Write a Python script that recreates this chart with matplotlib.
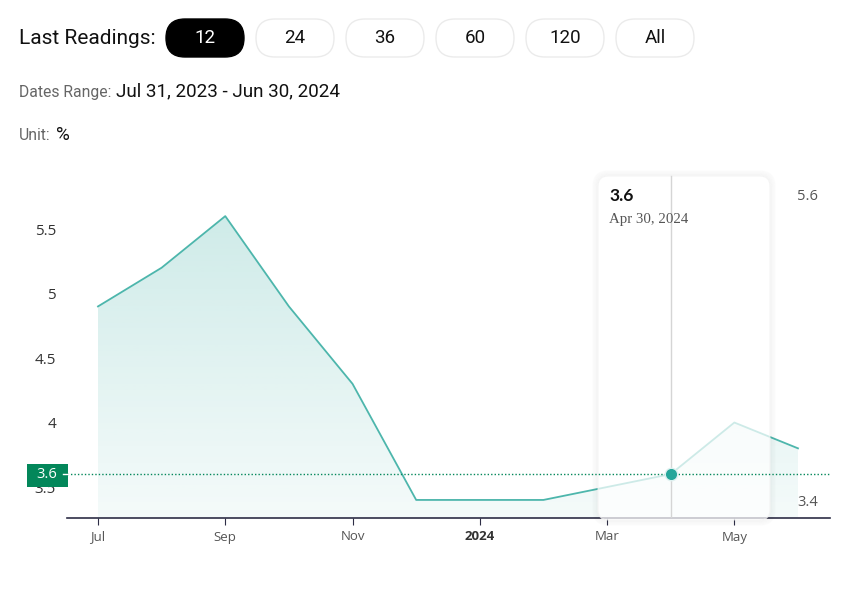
import matplotlib
matplotlib.use("Agg")
import matplotlib.pyplot as plt
import numpy as np
from matplotlib.patches import FancyBboxPatch, Rectangle, Polygon
from matplotlib.transforms import IdentityTransform

# data
months = ["Jul", "Aug", "Sep", "Oct", "Nov", "Dec", "Jan", "Feb", "Mar", "Apr", "May", "Jun"]
values = [4.9, 5.2, 5.6, 4.9, 4.3, 3.4, 3.4, 3.4, 3.5, 3.6, 4.0, 3.8]
tick_pos = [0, 2, 4, 6, 8, 10]
tick_labels = ["Jul", "Sep", "Nov", "2024", "Mar", "May"]
y_ticks = [3.5, 4, 4.5, 5, 5.5]
y_tick_labels = ["3.5", "4", "4.5", "5", "5.5"]
buttons = ["12", "24", "36", "60", "120", "All"]
hover_idx = 9
hover_date = "Apr 30, 2024"
date_range = "Jul 31, 2023 - Jun 30, 2024"

W, H = 845, 598
fig = plt.figure(figsize=(W / 100, H / 100), dpi=100)
pix = IdentityTransform()


def fx(px):
    return px / W


def fy(py):
    return 1 - py / H


def py(y):
    # pixel y (top origin) -> display y (bottom origin)
    return H - y


teal = "#4db6ac"
green = "#03875a"

# main axes
ax = fig.add_axes([fx(67), fy(518), (830 - 67) / W, (518 - 160) / H])
ymin, ymax = 3.26, 6.035
x = np.arange(len(values))

# gradient fill under the line
grad = np.zeros((200, 1, 4))
grad[:, 0, 0] = 77 / 255
grad[:, 0, 1] = 182 / 255
grad[:, 0, 2] = 172 / 255
grad[:, 0, 3] = np.linspace(0.06, 0.27, 200)
im = ax.imshow(grad, origin="lower", aspect="auto",
               extent=[x[0], x[-1], ymin, max(values)], zorder=1)
verts = list(zip(x, values)) + [(x[-1], ymin), (x[0], ymin)]
clip = Polygon(verts, closed=True, facecolor="none", edgecolor="none")
ax.add_patch(clip)
im.set_clip_path(clip)
ax.set_xlim(-0.487, 11.503)
ax.set_ylim(ymin, ymax)

ax.plot(x, values, color=teal, lw=1.3, zorder=2)

for s in ["left", "top", "right"]:
    ax.spines[s].set_visible(False)
ax.spines["bottom"].set_color("#2d2d46")
ax.spines["bottom"].set_linewidth(1.2)

ax.set_xticks(tick_pos)
ax.set_xticklabels(tick_labels)
ax.set_yticks(y_ticks)
ax.set_yticklabels(y_tick_labels)
ax.tick_params(axis="x", length=5, color="#2d2d46", labelsize=9.5, labelcolor="#555555", pad=4)
ax.tick_params(axis="y", length=0, pad=8, labelsize=11, labelcolor="#333333")
for lbl in ax.get_xticklabels():
    lbl.set_fontfamily("Open Sans")
    if lbl.get_text() == "2024":
        lbl.set_fontweight("bold")
        lbl.set_color("#333333")
for lbl in ax.get_yticklabels():
    lbl.set_fontfamily("Open Sans")
ax.set_facecolor("none")

# tooltip box (in pixels) with a soft ring shadow
bx0, bx1, by0, by1 = 598, 770, 176, 520
for i in range(1, 6):
    sh = FancyBboxPatch((bx0 - i, py(by1) - i), (bx1 - bx0) + 2 * i, (by1 - by0) + 2 * i,
                        boxstyle="round,pad=0,rounding_size=%d" % (10 + i),
                        transform=pix, facecolor="none", edgecolor="black", lw=1,
                        alpha=0.035 - 0.005 * i, zorder=4)
    fig.patches.append(sh)
box = FancyBboxPatch((bx0, py(by1)), bx1 - bx0, by1 - by0,
                     boxstyle="round,pad=0,rounding_size=10", transform=pix,
                     facecolor="white", edgecolor="#f0f0f0", lw=0.8, alpha=0.72, zorder=5)
fig.patches.append(box)

# overlay axes for hover elements
ax2 = fig.add_axes(ax.get_position(), zorder=10)
ax2.set_xlim(ax.get_xlim())
ax2.set_ylim(ax.get_ylim())
ax2.axis("off")
ax2.patch.set_alpha(0)
ax2.axvline(hover_idx, ymin=0, ymax=(518 - 176) / (518 - 160), color="#d5d5d5", lw=1)
ax2.axhline(values[hover_idx], xmin=0, xmax=1, color=green, lw=1, ls=(0, (1, 1.5)))
ax2.plot(hover_idx, values[hover_idx], "o", ms=9, color="#26a69a", mec="#e0f2f1", mew=1)

# tooltip text
fig.text(fx(609), fy(196), "%.1f" % values[hover_idx], fontsize=12.5, fontweight="bold",
         color="#111111", va="center", ha="left", family="Lato", zorder=12)
fig.text(fx(609), fy(219), hover_date, fontsize=10.7, color="#555555", va="center",
         ha="left", family="Liberation Serif", zorder=12)

# current value label on the y axis
lab = Rectangle((27, py(487)), 41, 23, transform=pix, facecolor=green,
                edgecolor="none", zorder=11)
fig.patches.append(lab)
fig.text(fx(47), fy(475), "%.1f" % values[hover_idx], fontsize=10.5, color="white",
         ha="center", va="center", family="Open Sans", zorder=12)
fig.lines.append(plt.Line2D([63, 68], [py(474), py(474)], transform=pix,
                            color="white", lw=1, zorder=12))

# max / min labels
fig.text(fx(797), fy(197), "%.1f" % max(values), fontsize=10.5, color="#555555",
         ha="left", va="center", family="Open Sans")
fig.text(fx(797), fy(503), "%.1f" % min(values), fontsize=10.5, color="#555555",
         ha="left", va="center", family="Open Sans")

# header
fig.text(fx(19), fy(38), "Last Readings:", fontsize=15, color="#111111",
         ha="left", va="center", family="Roboto")
bx = [166, 256, 346, 436, 526, 616]
for i, b in enumerate(buttons):
    active = i == 0
    p = FancyBboxPatch((bx[i], py(57)), 78, 38, boxstyle="round,pad=0,rounding_size=19",
                       transform=pix, facecolor="black" if active else "white",
                       edgecolor="black" if active else "#ebebeb", lw=1)
    fig.patches.append(p)
    fig.text(fx(bx[i] + 39), fy(38), b, fontsize=13.5,
             color="white" if active else "#111111", ha="center", va="center",
             family="Roboto")

fig.text(fx(19), fy(92), "Dates Range:", fontsize=11.3, color="#666666",
         ha="left", va="center", family="Roboto")
fig.text(fx(116), fy(91), date_range, fontsize=13.6, color="#111111",
         ha="left", va="center", family="Roboto")
fig.text(fx(19), fy(136), "Unit:", fontsize=11.3, color="#666666",
         ha="left", va="center", family="Roboto")
fig.text(fx(56), fy(135), "%", fontsize=13.6, color="#111111",
         ha="left", va="center", family="Roboto")

fig.savefig("out.png", dpi=100)
